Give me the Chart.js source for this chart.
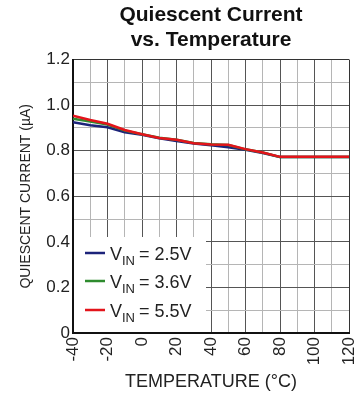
<!DOCTYPE html>
<html>
<head>
<meta charset="utf-8">
<script src="https://cdn.jsdelivr.net/npm/chart.js@4"></script>
<style>
  html, body { margin: 0; padding: 0; background: #fff; }
  #wrap { width: 363px; height: 395px; }
</style>
</head>
<body>
<div id="wrap"><canvas id="myChart" width="363" height="395"></canvas></div>
<script>
'use strict';
var temps = [-40, -30, -20, -10, 0, 10, 20, 30, 40, 50, 60, 70, 80, 90, 100, 110, 120];
var vin25 = [0.925, 0.912, 0.903, 0.881, 0.870, 0.855, 0.843, 0.832, 0.824, 0.815, 0.804, 0.790, 0.772, 0.772, 0.772, 0.772, 0.772];
var vin36 = [0.940, 0.928, 0.915, 0.888, 0.872, 0.857, 0.848, 0.834, 0.828, 0.825, 0.806, 0.792, 0.772, 0.772, 0.772, 0.772, 0.772];
var vin55 = [0.954, 0.935, 0.918, 0.891, 0.872, 0.856, 0.848, 0.833, 0.827, 0.826, 0.807, 0.792, 0.773, 0.773, 0.773, 0.773, 0.773];
var seriesNames = ['2.5V', '3.6V', '5.5V'];
var seriesColors = ['#1c237a', '#2e8b2e', '#e3141b'];

var FONT = '"Liberation Sans", Arial, sans-serif';

function points(vals) {
    return temps.map(function (t, i) { return { x: t, y: vals[i] }; });
}

// legend box with subscripts, drawn over the grid
var vinLegend = {
    id: 'vinLegend',
    afterDraw: function (chart) {
        var ctx = chart.ctx;
        var a = chart.chartArea;
        ctx.save();
        ctx.fillStyle = '#fff';
        ctx.fillRect(a.left + 1, a.bottom - 96, 132, 95);
        var rows = [a.bottom - 80, a.bottom - 52, a.bottom - 23];
        seriesNames.forEach(function (name, i) {
            var y = rows[i];
            ctx.strokeStyle = seriesColors[i];
            ctx.lineWidth = 2.5;
            ctx.beginPath();
            ctx.moveTo(a.left + 12, y);
            ctx.lineTo(a.left + 32, y);
            ctx.stroke();
            ctx.fillStyle = '#222';
            ctx.textBaseline = 'alphabetic';
            ctx.textAlign = 'left';
            ctx.font = '18px ' + FONT;
            var x = a.left + 37;
            ctx.fillText('V', x, y + 7);
            x += ctx.measureText('V').width;
            ctx.font = '13px ' + FONT;
            ctx.fillText('IN', x, y + 12);
            x += ctx.measureText('IN').width + 4;
            ctx.font = '18px ' + FONT;
            ctx.fillText('= ' + name, x, y + 7);
        });
        ctx.restore();
    }
};

var ctx = document.getElementById('myChart');
var myChart = new Chart(ctx, {
    type: 'line',
    data: {
        datasets: seriesNames.map(function (name, i) {
            return {
                label: 'VIN = ' + name,
                data: points([vin25, vin36, vin55][i]),
                borderColor: seriesColors[i],
                borderWidth: 2.5,
                pointRadius: 0,
                fill: false,
                order: 3 - i // red on top
            };
        })
    },
    options: {
        responsive: false,
        animation: false,
        layout: { padding: { left: 0, right: 14, top: 0, bottom: 0 } },
        elements: { line: { tension: 0 } },
        plugins: {
            legend: { display: false },
            tooltip: { enabled: false },
            title: {
                display: true,
                fullSize: false,
                text: ['Quiescent Current', 'vs. Temperature'],
                color: '#111',
                font: { family: FONT, size: 21, weight: 'bold', lineHeight: 1.18 },
                padding: { top: 3, bottom: 7 }
            }
        },
        scales: {
            x: {
                type: 'linear',
                min: -40,
                max: 120,
                afterFit: function (s) {
                    s.height = 62;
                    s.paddingLeft = 0;
                    s.paddingRight = 0;
                },
                border: { color: '#111', width: 2 },
                grid: {
                    drawTicks: false,
                    color: function (c) {
                        var v = c.tick.value;
                        if (v === 120) return '#333';
                        return v % 20 === 0 ? '#555' : '#b5b5b5';
                    }
                },
                title: {
                    display: true,
                    text: 'TEMPERATURE (°C)',
                    color: '#222',
                    font: { family: FONT, size: 18 },
                    padding: { top: 0, bottom: 2 }
                },
                ticks: {
                    stepSize: 10,
                    autoSkip: false,
                    minRotation: 90,
                    maxRotation: 90,
                    padding: 4,
                    color: '#222',
                    font: { family: FONT, size: 17 },
                    callback: function (v) { return v % 20 === 0 ? String(v) : ''; }
                }
            },
            y: {
                min: 0,
                max: 1.2,
                afterFit: function (s) { s.width = 73; },
                border: { color: '#111', width: 2 },
                grid: {
                    drawTicks: false,
                    color: function (c) {
                        var v = Math.round(c.tick.value * 10);
                        if (v === 12) return '#333';
                        return v % 2 === 0 ? '#555' : '#b5b5b5';
                    }
                },
                title: {
                    display: true,
                    text: 'QUIESCENT CURRENT (µA)',
                    color: '#222',
                    font: { family: FONT, size: 14 },
                    padding: { top: 18, bottom: 0 }
                },
                ticks: {
                    stepSize: 0.1,
                    autoSkip: false,
                    padding: 3,
                    color: '#222',
                    font: { family: FONT, size: 17 },
                    callback: function (v) {
                        var k = Math.round(v * 10);
                        if (k % 2 !== 0) return '';
                        return k === 0 ? '0' : (k / 10).toFixed(1);
                    }
                }
            }
        }
    },
    plugins: [vinLegend]
});
</script>
</body>
</html>
